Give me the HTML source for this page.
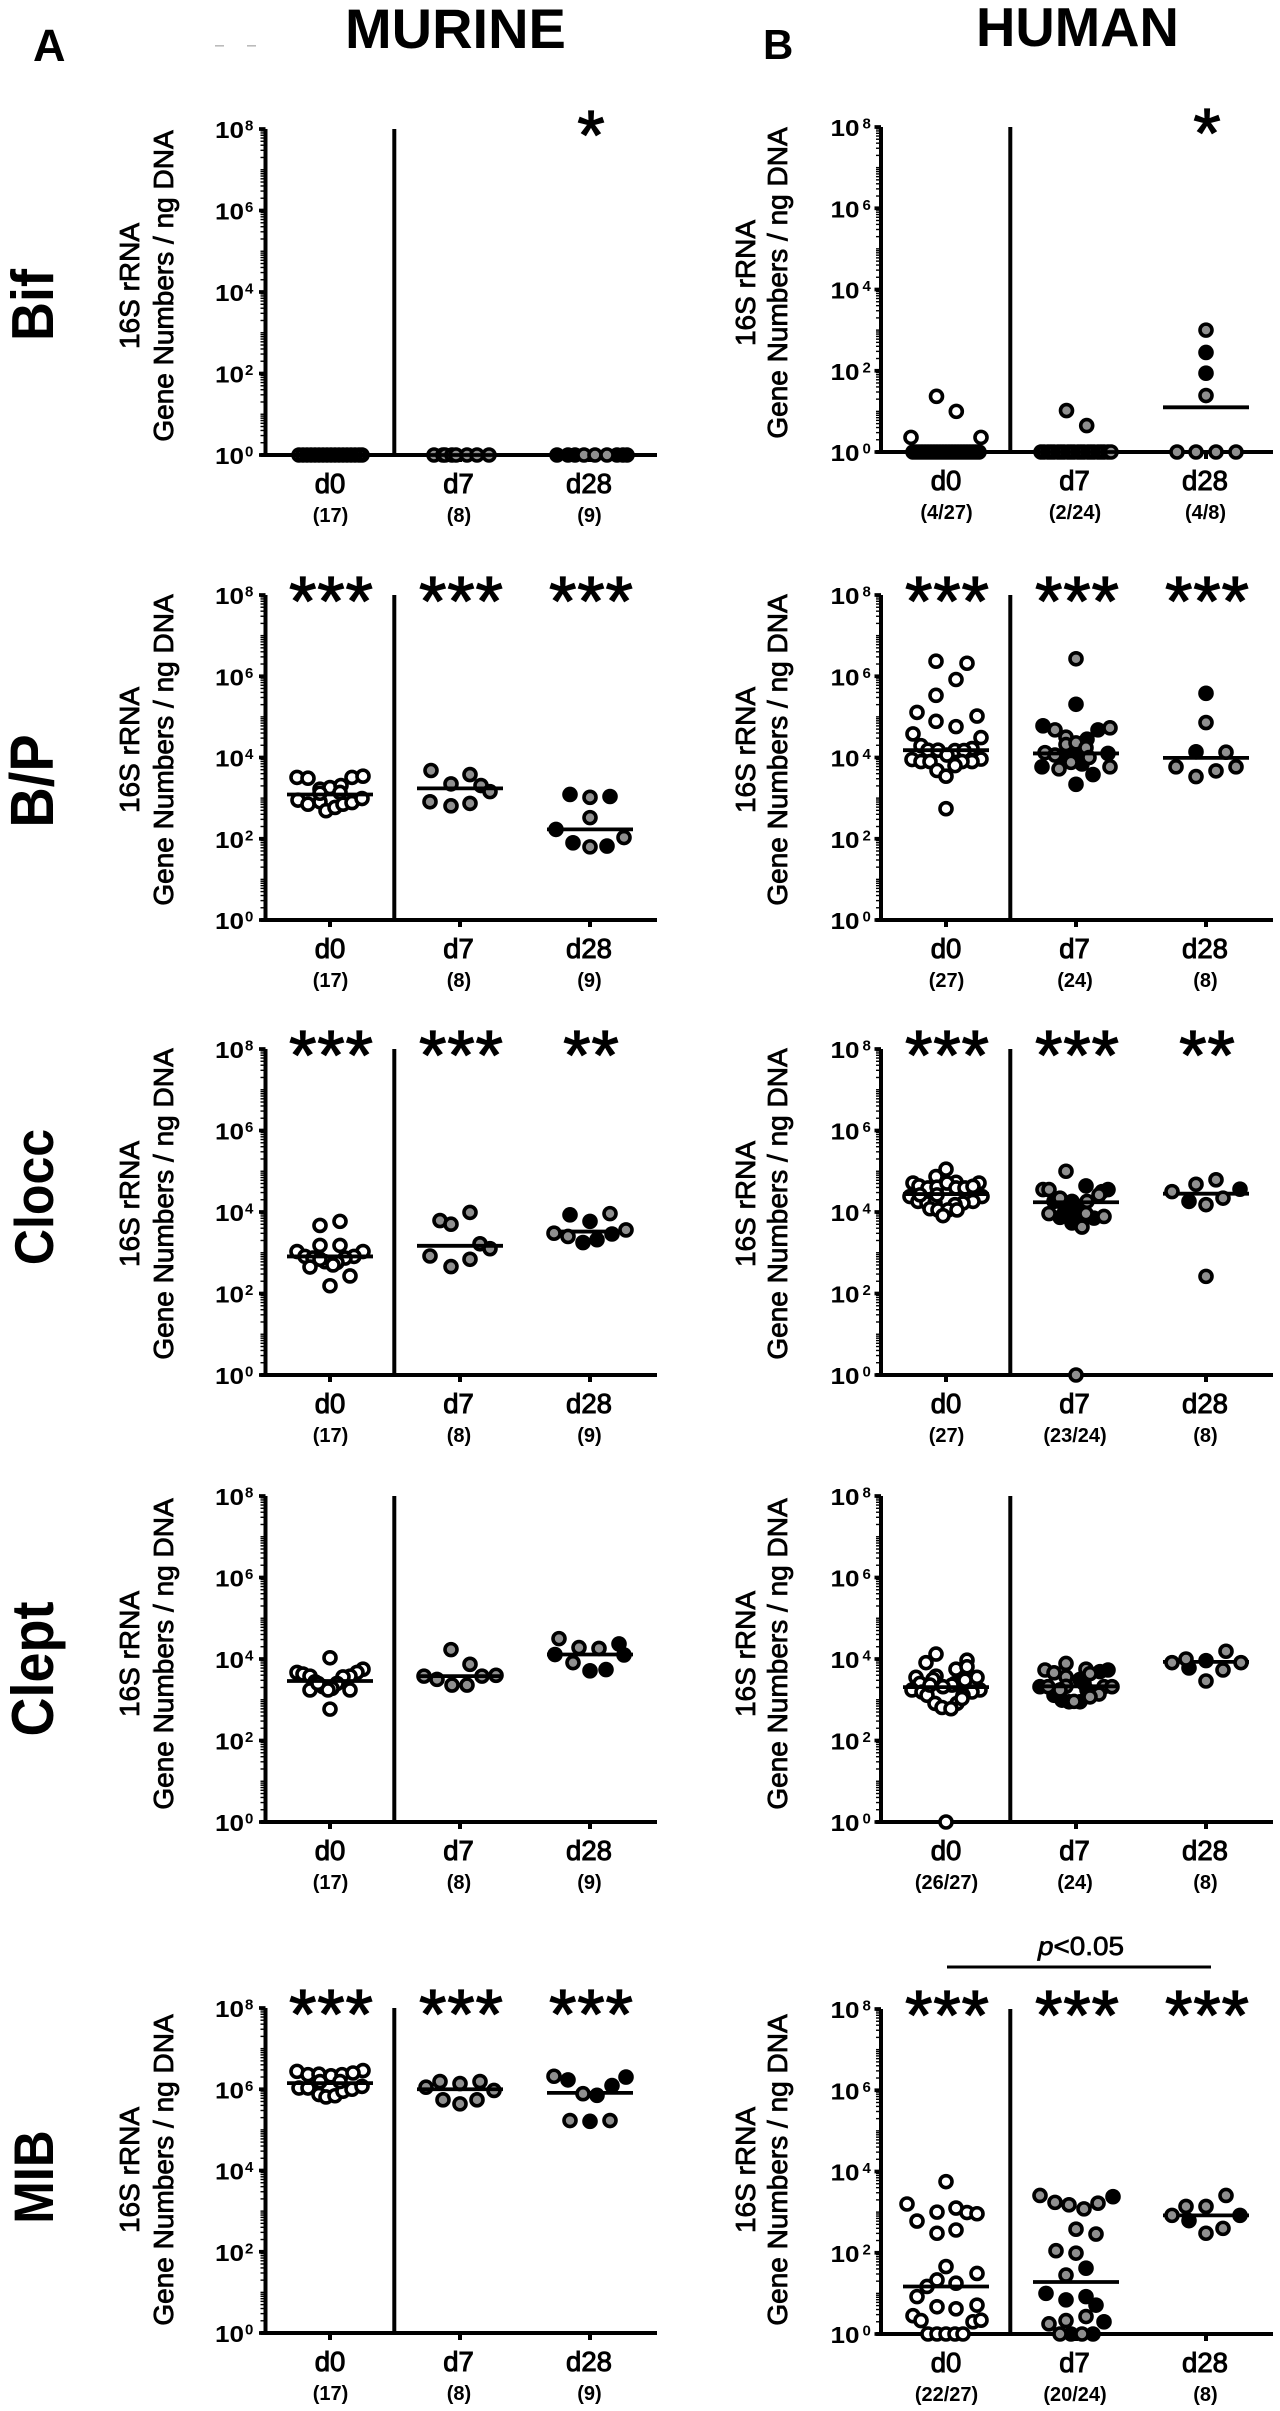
<!DOCTYPE html>
<html lang="en">
<head>
<meta charset="utf-8">
<title>16S rRNA gene numbers, murine and human</title>
<style>
html,body{margin:0;padding:0;background:#fff;}
body{width:1280px;height:2411px;overflow:hidden;}
svg{display:block;font-family:"Liberation Sans",Arial,sans-serif;}
text{fill:#000;}
</style>
</head>
<body>
<svg id="figure" width="1280" height="2411" viewBox="0 0 1280 2411" xmlns="http://www.w3.org/2000/svg">
  <text x="345" y="48" font-size="56" font-weight="bold">MURINE</text>
  <text x="976" y="46" font-size="54.5" font-weight="bold">HUMAN</text>
  <text x="33" y="61" font-size="45" font-weight="bold">A</text>
  <text x="763" y="59" font-size="42" font-weight="bold">B</text>
  <rect x="215" y="45" width="9" height="1.6" fill="#bbb"/>
  <rect x="247" y="45" width="9" height="1.6" fill="#bbb"/>
  <text transform="translate(53,305) rotate(-90) scale(1,1.1)" font-size="54" font-weight="bold" text-anchor="middle">Bif</text>
  <text transform="translate(53,781) rotate(-90) scale(1,1.1)" font-size="56" font-weight="bold" text-anchor="middle">B/P</text>
  <text transform="translate(53,1197) rotate(-90) scale(1,1.1)" font-size="50" font-weight="bold" text-anchor="middle">Clocc</text>
  <text transform="translate(53,1669) rotate(-90) scale(1,1.1)" font-size="54" font-weight="bold" text-anchor="middle">Clept</text>
  <text transform="translate(53,2177) rotate(-90) scale(1,1.1)" font-size="51" font-weight="bold" text-anchor="middle">MIB</text>
  <rect x="947" y="1965.5" width="264" height="3" fill="#000"/>
  <text x="1038" y="1955" font-size="26" textLength="86" lengthAdjust="spacingAndGlyphs" stroke="#000" stroke-width="0.7"><tspan font-style="italic">p</tspan>&lt;0.05</text>
  <g id="panels"></g>
</svg>
<script>
// Shared tick labels and categories
const decadeTicks = [0, 2, 4, 6, 8];
const categories = ["d0", "d7", "d28"];

// Values are log10(16S copies / ng DNA). Offsets are swarm slots. Cohorts: w, g, k, o.
// Murine Bif
const muBifD0 = [0,0,0,0,0,0,0,0,0,0,0,0,0,0,0,0,0];
const muBifD0Slots = [-3.1,-2.7,-2.3,-1.9,-1.5,-1.1,-0.7,-0.3,0.1,0.5,0.9,1.3,1.7,2.1,2.5,2.9,3.2];
const muBifD7 = [0,0,0,0,0,0,0,0];
const muBifD7Slots = [-2.6,-1.7,-1.5,-0.8,-0.4,0.7,1.7,2.9];
const muBifD28 = [0,0,0,0,0,0,0,0,0];
const muBifD28Slots = [-3.3,-2.2,-1.5,-0.6,0.5,1.7,2.7,3.3,3.7];
const muBifD28Cohort = "kkkgggkkk";
const muBifMedians = [0, 0, 0];
const muBifCounts = ["(17)", "(8)", "(9)"];
const muBifStars = ["", "", "*"];

// Human Bif
const huBifD0 = [1.37,1.0,0.36,0.36,0,0,0,0,0,0,0,0,0,0,0,0,0,0,0,0,0,0,0,0,0,0,0];
const huBifD0Slots = [-0.95,1.03,-3.5,3.5,-3.3,-3,-2.7,-2.4,-2.1,-1.8,-1.5,-1.2,-0.9,-0.6,-0.3,0,0.3,0.6,0.9,1.2,1.5,1.8,2.1,2.4,2.7,3,3.3];
const huBifD0Cohort = "wwwwooooooooooooooooooooooo";
const huBifD7 = [1.02,0.65,0,0,0,0,0,0,0,0,0,0,0,0,0,0,0,0,0,0,0,0,0,0];
const huBifD7Slots = [-0.95,1.07,-3.5,-3.2,-2.8,-2.5,-2.2,-1.8,-1.5,-1.2,-0.8,-0.5,-0.2,0.2,0.5,0.8,1.2,1.5,1.8,2.2,2.5,2.8,3.2,3.5];
const huBifD28 = [3.0,2.45,1.94,1.39,0,0,0,0];
const huBifD28Slots = [0,0,0,0,-2.9,-1,1,3];
const huBifD28Cohort = "gkkggggg";
const huBifMedians = [0, 0, 1.10];
const huBifCounts = ["(4/27)", "(2/24)", "(4/8)"];
const huBifStars = ["", "", "*"];

// Murine B/P
const muBpD0 = [3.51,3.49,3.22,3.26,3.31,3.51,3.54,2.95,2.85,2.91,2.69,2.77,2.85,2.89,2.99,3.12,3.14];
const muBpD0Slots = [-3.3,-2.2,-1,0,1.1,2.2,3.3,-3.2,-2.2,-1,-0.4,0.5,1.3,2.2,3.2,-1,1];
const muBpD7 = [3.68,3.35,3.58,3.31,3.16,2.91,2.81,2.87];
const muBpD7Slots = [-2.9,-0.9,1,2.1,3,-3,-0.9,1];
const muBpD28 = [3.09,3.02,3.04,2.52,2.23,2.03,1.90,1.80,1.82];
const muBpD28Slots = [-2,0,2,0,-3.4,3.4,-1.7,0,1.7];
const muBpD28Cohort = "kgkgkgkgk";
const muBpMedians = [3.09, 3.24, 2.23];
const muBpCounts = ["(17)", "(8)", "(9)"];
const muBpStars = ["***", "***", "***"];

// Human B/P
const huBpD0 = [6.37,6.32,5.92,5.53,5.11,5.02,4.89,4.76,4.58,4.49,4.29,4.22,4.18,4.18,4.17,4.17,4.06,3.95,3.96,3.90,3.90,3.90,3.90,3.80,3.68,3.54,2.74];
const huBpD0Slots = [-1,2.1,1,-1,-2.9,3.1,-1,1,-3.3,3.5,-2.5,2.6,-1.8,-0.8,0.9,1.8,0.1,-3.4,3.5,-2.5,2.6,1.6,-1.6,0.9,-0.9,0,0];
const huBpD7 = [6.43,5.31,4.78,4.68,4.68,4.73,4.50,4.45,4.32,4.36,4.24,4.12,4.06,4.10,4.10,4.0,3.88,3.84,3.77,3.72,3.77,3.58,3.34,4.02];
const huBpD7Slots = [0,0,-3.3,-2.1,2.2,3.4,-1,1.1,-1,0,1,-3.1,-2.1,3.2,0,1.3,-0.5,0.6,-3.4,-1.7,3.4,1.7,0,-1.1];
const huBpD7Cohort = "gkkgkggkgggggkkggkkggkkk";
const huBpD28 = [5.58,4.86,4.14,4.13,3.77,3.77,3.67,3.53];
const huBpD28Slots = [0,0,-1,2,-3,3,1,-1];
const huBpD28Cohort = "kgkggggg";
const huBpMedians = [4.18, 4.10, 3.99];
const huBpCounts = ["(27)", "(24)", "(8)"];
const huBpStars = ["***", "***", "***"];

// Murine Clocc
const muClD0 = [3.77,3.67,3.18,3.18,3.03,3.03,2.91,2.91,2.87,2.87,2.78,2.76,2.65,2.70,2.43,2.19,2.84];
const muClD0Slots = [1,-1,-1,1,-3.3,3.3,-2.5,2.4,-1.7,1.5,-0.5,0.7,-2,0.3,2,0,-1];
const muClD7 = [3.99,3.79,3.70,3.22,3.10,2.92,2.84,2.66];
const muClD7Slots = [1,-2,-0.9,2,3,-3,1,-0.9];
const muClD28 = [3.93,3.96,3.77,3.56,3.48,3.40,3.46,3.32,3.25];
const muClD28Slots = [-2,2,0,3.6,-3.6,-2.2,2.2,0.7,-0.7];
const muClD28Cohort = "kgkgggkkk";
const muClMedians = [2.91, 3.17, 3.52];
const muClCounts = ["(17)", "(8)", "(9)"];
const muClStars = ["***", "***", "**"];

// Human Clocc
const huClD0 = [5.05,4.87,4.71,4.71,4.73,4.64,4.59,4.61,4.71,4.59,4.59,4.63,4.38,4.38,4.26,4.22,4.22,4.26,4.22,4.18,4.08,4.05,4.05,4.05,4.42,3.91,4.42];
const huClD0Slots = [0,-1,-3.3,3.3,1,-2.7,-1.8,-0.9,0.1,1,1.9,2.7,-3.6,3.6,-2.8,-1.9,-1.1,2.7,1.7,0.9,-1.6,-0.8,0.2,1.1,-2.6,-0.3,-0.9];
const huClD7 = [5.0,4.64,4.55,4.50,4.55,4.55,4.42,4.34,4.26,4.26,4.14,4.14,4.05,3.96,3.96,3.89,3.87,3.85,3.73,3.63,0,4.05,3.93,4.26];
const huClD7Slots = [-1,1,3.2,2.6,-3.3,-2.7,2.3,-1.6,1.1,-0.4,-0.9,0.1,0.4,-2.7,1,2.8,-1.6,1.8,-0.4,0.6,0,-1.1,-0.1,-2.2];
const huClD7Cohort = "gkkkgggggkkkkgggkkkggkkk";
const huClD28 = [4.79,4.68,4.56,4.50,4.34,4.26,4.18,2.42];
const huClD28Slots = [1,-1,3.4,-3.4,1.7,-1.7,0,0];
const huClD28Cohort = "ggkggkgg";
const huClMedians = [4.44, 4.24, 4.45];
const huClCounts = ["(27)", "(23/24)", "(8)"];
const huClStars = ["***", "***", "**"];

// Murine Clept
const muCpD0 = [4.03,3.67,3.75,3.63,3.58,3.67,3.58,3.56,3.44,3.40,3.32,3.28,3.24,3.24,3.24,3.40,2.77];
const muCpD0Slots = [0,-3.3,3.3,-2.7,-2,2.7,2,1.3,-1.5,0.7,-0.7,0.2,-2,2,-0.2,-1.2,0];
const muCpD7 = [4.23,3.87,3.58,3.58,3.60,3.50,3.36,3.36];
const muCpD7Slots = [-0.9,1,-3.6,2.2,3.6,-2.3,-0.8,0.7];
const muCpD28 = [4.50,4.37,4.28,4.26,4.11,4.10,3.91,3.71,3.74];
const muCpD28Slots = [-3.1,2.9,-1.1,0.9,-3.5,3.4,-1.7,0,1.6];
const muCpD28Cohort = "gkggkkgkk";
const muCpMedians = [3.46, 3.58, 4.11];
const muCpCounts = ["(17)", "(8)", "(9)"];
const muCpStars = ["", "", ""];

// Human Clept
const huCpD0 = [4.12,3.91,3.97,3.75,3.81,3.55,3.55,3.58,3.50,3.40,3.48,3.40,3.24,3.19,3.24,3.19,3.11,3.11,3.36,3.32,2.91,2.91,2.81,2.78,0,3.36,3.03];
const huCpD0Slots = [-1,-2,2.1,1,2.1,-3,3.1,-1,-1.3,0.9,1.9,-2.6,-3.4,-2.4,3.4,2.6,-1.9,1.7,0.6,-0.3,-1.1,1.1,-0.4,0.5,0,-1.6,1.6];
const huCpD7 = [3.89,3.73,3.75,3.66,3.64,3.73,3.69,3.56,3.50,3.32,3.32,3.33,3.32,3.32,3.14,3.07,3.11,2.99,2.95,2.95,2.96,3.24,3.24,3.40];
const huCpD7Slots = [-1,-3.1,1,-2.2,1.4,3.2,2.4,-1,0.4,-3.6,-2.8,-1,2.8,3.6,2.3,1.4,-2.2,-1.4,-0.7,0.4,-0.2,1.1,-1.6,0.8];
const huCpD7Cohort = "gggggkkgkkgggggg" + "kkkkgkgk";
const huCpD28 = [4.19,4.0,3.96,3.91,3.91,3.78,3.73,3.46];
const huCpD28Slots = [2,-2,0,-3.4,3.5,-1.7,1.7,0];
const huCpD28Cohort = "ggkggkgg";
const huCpMedians = [3.31, 3.33, 3.93];
const huCpCounts = ["(26/27)", "(24)", "(8)"];
const huCpStars = ["", "", ""];

// Murine MIB
const muMbD0 = [6.44,6.46,6.36,6.37,6.33,6.36,6.40,6.03,6.03,5.87,5.81,5.84,5.95,6.0,6.07,6.19,6.19];
const muMbD0Slots = [-3.3,3.3,-2.2,-1.1,0.1,1.2,2.3,-3.1,-2.2,-1.1,-0.4,0.5,1.3,2.2,3.2,-1,1];
const muMbD7 = [6.19,6.14,6.19,6.05,5.97,5.74,5.64,5.74];
const muMbD7Slots = [-2,0,2,-3.4,3.4,-1.7,0,1.7];
const muMbD28 = [6.32,6.23,6.30,6.09,5.89,5.85,5.23,5.21,5.23];
const muMbD28Slots = [-3.6,-2.2,3.6,2.2,-0.7,0.7,-2,0,2];
const muMbD28Cohort = "gkkkgkgkg";
const muMbMedians = [6.15, 6.0, 5.91];
const muMbCounts = ["(17)", "(8)", "(9)"];
const muMbStars = ["***", "***", "***"];

// Human MIB
const huMbD0 = [3.75,3.20,3.10,3.0,2.99,2.96,2.78,2.56,2.48,1.66,1.49,1.33,1.25,1.17,0.92,0.67,0.62,0.71,0.45,0.33,0.30,0.34,0,0,0,0,0];
const huMbD0Slots = [0,-3.9,1,-0.9,2.1,3.1,-2.9,1,-0.9,0,3.1,-0.9,1,-1.9,-2.9,-0.9,1,3.1,-3.3,-2.5,2.7,3.5,-1.8,-0.9,0,0.9,1.7];
const huMbD7 = [3.41,3.24,3.18,3.08,3.22,3.38,2.58,2.46,2.05,1.99,1.62,1.45,1.0,0.84,0.92,0.71,0.43,0.30,0.33,0.25,0,0,0,0];
const huMbD7Slots = [-3.6,-2.1,-0.7,0.8,2.2,3.7,0,2,-2,0,1,-1,-3,-1,1,2,1,2.8,-1,-2.7,-1.6,-0.5,0.6,1.7];
const huMbD7Cohort = "gggggkggggkgkkkkgkgggkgk";
const huMbD28 = [3.41,3.14,3.14,2.92,2.92,2.79,2.60,2.48];
const huMbD28Slots = [2,-2,0,-3.4,3.4,-1.7,1.7,0];
const huMbD28Cohort = "ggggkkgg";
const huMbMedians = [1.17, 1.28, 2.92];
const huMbCounts = ["(22/27)", "(20/24)", "(8)"];
const huMbStars = ["***", "***", "***"];

// Panel wiring (data references + frame geometry)
const panelList = [
  {id:"murine-bif", col:0, top:129, bottom:455, titleY:286, medians:muBifMedians, counts:muBifCounts, stars:muBifStars,
   groups:[[muBifD0,muBifD0Slots,"o"],[muBifD7,muBifD7Slots,"g"],[muBifD28,muBifD28Slots,muBifD28Cohort]]},
  {id:"human-bif", col:1, top:127, bottom:452, titleY:283, medians:huBifMedians, counts:huBifCounts, stars:huBifStars,
   groups:[[huBifD0,huBifD0Slots,huBifD0Cohort],[huBifD7,huBifD7Slots,"g"],[huBifD28,huBifD28Slots,huBifD28Cohort]]},
  {id:"murine-bp", col:0, top:595, bottom:920, titleY:750, medians:muBpMedians, counts:muBpCounts, stars:muBpStars,
   groups:[[muBpD0,muBpD0Slots,"w"],[muBpD7,muBpD7Slots,"g"],[muBpD28,muBpD28Slots,muBpD28Cohort]]},
  {id:"human-bp", col:1, top:595, bottom:920, titleY:750, medians:huBpMedians, counts:huBpCounts, stars:huBpStars,
   groups:[[huBpD0,huBpD0Slots,"w"],[huBpD7,huBpD7Slots,huBpD7Cohort],[huBpD28,huBpD28Slots,huBpD28Cohort]]},
  {id:"murine-clocc", col:0, top:1049, bottom:1375, titleY:1204, medians:muClMedians, counts:muClCounts, stars:muClStars,
   groups:[[muClD0,muClD0Slots,"w"],[muClD7,muClD7Slots,"g"],[muClD28,muClD28Slots,muClD28Cohort]]},
  {id:"human-clocc", col:1, top:1049, bottom:1375, titleY:1204, medians:huClMedians, counts:huClCounts, stars:huClStars,
   groups:[[huClD0,huClD0Slots,"w"],[huClD7,huClD7Slots,huClD7Cohort],[huClD28,huClD28Slots,huClD28Cohort]]},
  {id:"murine-clept", col:0, top:1496, bottom:1822, titleY:1654, medians:muCpMedians, counts:muCpCounts, stars:muCpStars,
   groups:[[muCpD0,muCpD0Slots,"w"],[muCpD7,muCpD7Slots,"g"],[muCpD28,muCpD28Slots,muCpD28Cohort]]},
  {id:"human-clept", col:1, top:1496, bottom:1822, titleY:1654, medians:huCpMedians, counts:huCpCounts, stars:huCpStars,
   groups:[[huCpD0,huCpD0Slots,"w"],[huCpD7,huCpD7Slots,huCpD7Cohort],[huCpD28,huCpD28Slots,huCpD28Cohort]]},
  {id:"murine-mib", col:0, top:2008, bottom:2333, titleY:2170, medians:muMbMedians, counts:muMbCounts, stars:muMbStars,
   groups:[[muMbD0,muMbD0Slots,"w"],[muMbD7,muMbD7Slots,"g"],[muMbD28,muMbD28Slots,muMbD28Cohort]]},
  {id:"human-mib", col:1, top:2009, bottom:2334, titleY:2170, medians:huMbMedians, counts:huMbCounts, stars:huMbStars,
   groups:[[huMbD0,huMbD0Slots,"w"],[huMbD7,huMbD7Slots,huMbD7Cohort],[huMbD28,huMbD28Slots,huMbD28Cohort]]}
];

const columnFrames = [
  {axisX:265.5, sepX:394.3, endX:657, catX:[330,460,590], labelOffset:30, title1X:139, title2X:173},
  {axisX:881, sepX:1010.3, endX:1273, catX:[946,1076,1206], labelOffset:32, title1X:755, title2X:787}
];
const cohortFill = {w:"#ffffff", g:"#8f8f8f", k:"#000000", o:"none"};
const SVG_NS = "http://www.w3.org/2000/svg";
const root = document.getElementById("panels");

function make(tag, name, parent){
  const el = document.createElementNS(SVG_NS, tag);
  
  
  parent.appendChild(el);
  return el;
}
function line(parent, name, x1, y1, x2, y2, width){
  const l = make("line", name, parent);
  l.setAttribute("x1", x1); l.setAttribute("y1", y1);
  l.setAttribute("x2", x2); l.setAttribute("y2", y2);
  l.setAttribute("stroke", "#000");
  l.setAttribute("stroke-width", width);
  return l;
}
function label(parent, name, x, y, size, content, anchor, bold){
  const t = make("text", name, parent);
  t.setAttribute("x", x); t.setAttribute("y", y);
  t.setAttribute("font-size", size);
  if (bold !== false) t.setAttribute("font-weight", "bold");
  if (anchor) t.setAttribute("text-anchor", anchor);
  t.textContent = content;
  return t;
}
function thicken(t, w){
  t.setAttribute("stroke", "#000");
  t.setAttribute("stroke-width", w);
}

panelList.forEach(function(p){
  const f = columnFrames[p.col];
  const g = make("g", p.id + "-panel", root);
  const yScale = function(exp){ return p.bottom - exp * (p.bottom - p.top) / 8; };
  const xScale = function(catIndex, slot){ return f.catX[catIndex] + slot * 10; };

  // y axis title
  [[f.title1X, "16S rRNA", "y-axis-title-line-1"],[f.title2X, "Gene Numbers / ng DNA", "y-axis-title-line-2"]].forEach(function(d){
    const t = make("text", d[2], g);
    t.setAttribute("transform", "translate(" + d[0] + "," + p.titleY + ") rotate(-90)");
    t.setAttribute("font-size", "28");
    t.setAttribute("text-anchor", "middle");
    thicken(t, 0.8);
    t.textContent = d[1];
  });

  // minor log ticks
  for (let e = 0; e < 8; e++) {
    for (let m = 1; m < 10; m++) {
      const y = yScale(e + Math.log10(m));
      line(g, "y-minor-tick", f.axisX - 5, y, f.axisX, y, 1.4);
    }
  }
  // major ticks and labels
  decadeTicks.forEach(function(exp){
    const y = yScale(exp);
    line(g, "y-major-tick", f.axisX - 6.5, y, f.axisX, y, 3.7);
    const lx = f.axisX - 50.5;
    const base = label(g, "y-tick-label-base", lx, y + 9, 23, "10", null);
    base.setAttribute("textLength", "29");
    base.setAttribute("lengthAdjust", "spacingAndGlyphs");
    label(g, "y-tick-label-exponent", lx + f.labelOffset, y + 1.5, 15, String(exp), null);
  });

  // axes
  line(g, "y-axis", f.axisX, p.top, f.axisX, p.bottom + 2, 4);
  line(g, "group-separator", f.sepX, p.top, f.sepX, p.bottom + 2, 4);

  categories.forEach(function(cat, i){
    line(g, "x-tick-" + cat, f.catX[i], p.bottom, f.catX[i], p.bottom + 7, 4);
    const shift = i === 1 ? -1.5 : (i === 2 ? -1 : 0);
    const catLabel = label(g, "x-label-" + cat, f.catX[i] + shift, p.bottom + 38, 27.5, cat, "middle", false);
    thicken(catLabel, 1);
    label(g, "sample-count-" + cat, f.catX[i] + shift + 0.5, p.bottom + 67, 20, p.counts[i], "middle");
    if (p.stars[i]) {
      const s = label(g, "significance-stars-" + cat, f.catX[i] + 1.5, p.top + 30, 70, p.stars[i], "middle", false);
      s.setAttribute("letter-spacing", "1");
      thicken(s, 1.3);
    }
  });
  line(g, "x-axis", f.axisX - 5, p.bottom, f.endX, p.bottom, 4);

  // series
  p.groups.forEach(function(series, i){
    const values = series[0], slots = series[1], cohort = series[2];
    const cat = categories[i];
    const drawMedian = function(){
      const y = yScale(p.medians[i]);
      line(g, "median-line-" + cat, f.catX[i] - 43, y, f.catX[i] + 43, y, 3.8);
    };
    if (i === 2) drawMedian();
    const order = values.map(function(v, k){ return k; });
    const cohortOf = function(k){ return cohort.length === 1 ? cohort : cohort[k]; };
    order.sort(function(a, b){
      return (cohortOf(a) === "k" ? 0 : 1) - (cohortOf(b) === "k" ? 0 : 1) || a - b;
    });
    order.forEach(function(k){
      const c = make("circle", "point-" + cat, g);
      c.setAttribute("cx", xScale(i, slots[k]));
      c.setAttribute("cy", yScale(values[k]));
      c.setAttribute("r", 6);
      c.setAttribute("fill", cohortFill[cohortOf(k)]);
      c.setAttribute("stroke", "#000");
      c.setAttribute("stroke-width", 3.6);
    });
    if (i !== 2) drawMedian();
  });
});
</script>
</body>
</html>
